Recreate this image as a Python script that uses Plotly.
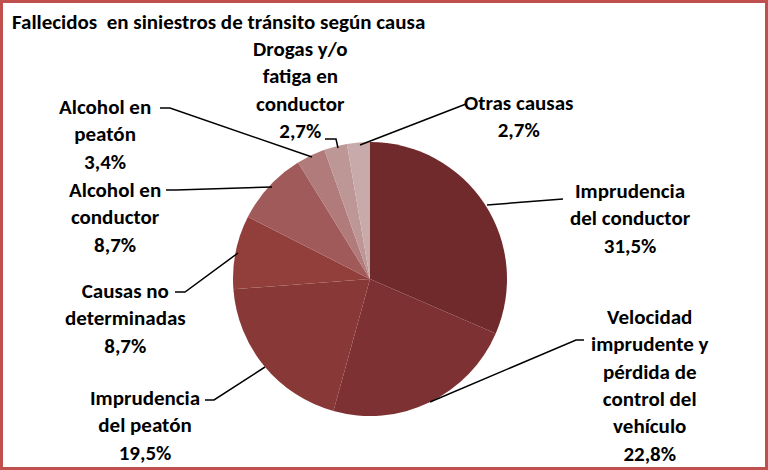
import plotly.graph_objects as go

W, H = 768, 470

causas = ["Imprudencia<br>del conductor",
          "Velocidad<br>imprudente y<br>pérdida de<br>control del<br>vehículo",
          "Imprudencia<br>del peatón",
          "Causas no<br>determinadas",
          "Alcohol en<br>conductor",
          "Alcohol en<br>peatón",
          "Drogas y/o<br>fatiga en<br>conductor",
          "Otras causas"]
porcentajes = [31.5, 22.8, 19.5, 8.7, 8.7, 3.4, 2.7, 2.7]
colores = ["#712A2C", "#7E3133", "#883836", "#923F3C", "#A05A59", "#B07B7A", "#BD9696", "#C8AAAA"]

# label centres (pixels) and leader lines (pixels)
label_pos = [(630, 219), (650, 385), (145, 425), (125, 318), (115, 217), (105, 134), (300, 90), (518, 116)]
leaders = [
    [(487, 205), (563, 199)],
    [(430, 402), (576, 340), (584, 340)],
    [(265, 367), (214, 400), (205, 400)],
    [(238, 253), (185, 292), (175, 292)],
    [(272, 187), (176, 190), (166, 190)],
    [(312, 157), (170, 108), (160, 108)],
    [(338, 148), (336, 139), (325, 139)],
    [(360, 145), (466, 104)],
]

def px(x, y):
    return x / W, 1 - y / H

fig = go.Figure()
cx, cy, r = 370, 279, 137
fig.add_trace(go.Pie(
    labels=[c.replace("<br>", " ") for c in causas],
    values=porcentajes,
    sort=False,
    direction="clockwise",
    rotation=0,
    textinfo="none",
    hoverinfo="label+percent",
    marker=dict(colors=colores, line=dict(width=0)),
    showlegend=False,
    domain=dict(x=[(cx - r) / W, (cx + r) / W], y=[1 - (cy + r) / H, 1 - (cy - r) / H]),
))

font = dict(family="Carlito, Lato, 'Open Sans', sans-serif", size=21, color="#000000")
annotations = []
for c, p, (x, y) in zip(causas, porcentajes, label_pos):
    ax, ay = px(x, y)
    txt = "<b>" + c + "<br>" + f"{p:.1f}".replace(".", ",") + "%</b>"
    annotations.append(dict(x=ax, y=ay, xref="paper", yref="paper", text=txt, showarrow=False,
                            font=font, align="center", xanchor="center", yanchor="middle"))
tx, ty = px(10, 22)
annotations.append(dict(x=tx, y=ty, xref="paper", yref="paper",
                        text="<b>Fallecidos  en siniestros de tránsito según causa</b>",
                        showarrow=False, font=font, xanchor="left", yanchor="middle"))

shapes = []
for pts in leaders:
    path = ""
    for i, (x, y) in enumerate(pts):
        a, b = px(x, y)
        path += ("M" if i == 0 else " L") + f"{a:.5f},{b:.5f}"
    shapes.append(dict(type="path", path=path, xref="paper", yref="paper",
                       line=dict(color="#000000", width=1.5)))
# border
shapes.append(dict(type="rect", xref="paper", yref="paper",
                   x0=1.5 / W, x1=1 - 1.5 / W, y0=1.5 / H, y1=1 - 1.5 / H,
                   line=dict(color="#C0504D", width=3)))

fig.update_layout(width=W, height=H, margin=dict(l=0, r=0, t=0, b=0),
                  paper_bgcolor="white", plot_bgcolor="white",
                  annotations=annotations, shapes=shapes)
fig.write_html("out.html", config={"displayModeBar": False},
               post_script="document.body.style.margin='0';document.body.style.padding='0';document.documentElement.style.overflow='hidden';")
